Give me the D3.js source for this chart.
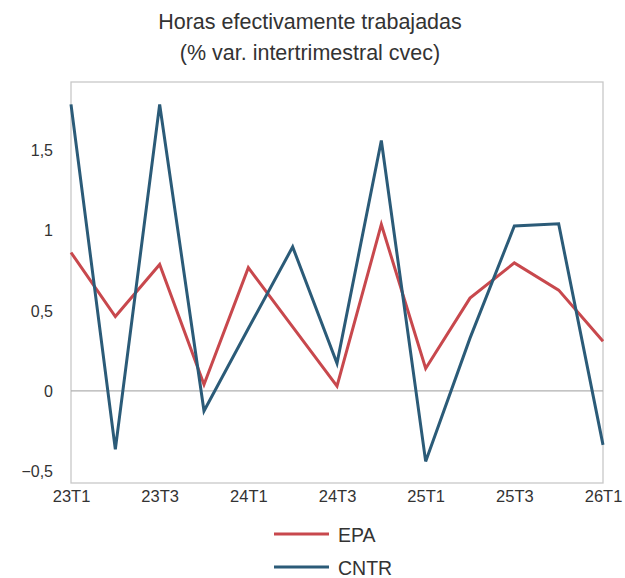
<!DOCTYPE html>
<html>
<head>
<meta charset="utf-8">
<script src="https://cdn.jsdelivr.net/npm/d3@7"></script>
<style>
    body { margin: 0; background: #fff; }
    svg { font-family: "Liberation Sans", Arial, sans-serif; }
</style>
</head>
<body>
<svg id="chart" width="625" height="578"></svg>
<script>
// Data
const quarters = ['23T1', '23T2', '23T3', '23T4', '24T1', '24T2', '24T3', '24T4',
    '25T1', '25T2', '25T3', '25T4', '26T1'];
const tickLabels = ['23T1', '23T3', '24T1', '24T3', '25T1', '25T3', '26T1'];
const epa = [0.865, 0.465, 0.79, 0.04, 0.77, 0.40, 0.03, 1.04, 0.14, 0.58, 0.80, 0.63, 0.31];
const cntr = [1.79, -0.365, 1.79, -0.125, 0.39, 0.90, 0.173, 1.565, -0.44, 0.33, 1.03, 1.044, -0.337];
const yTicks = [-0.5, 0, 0.5, 1, 1.5];

const series = [
    { name: 'EPA', values: epa, color: '#c8484d' },
    { name: 'CNTR', values: cntr, color: '#2b5b78' }
];

const svg = d3.select('#chart');
const margin = { left: 71, right: 22, top: 82, bottom: 95 };
const width = 625, height = 578;

const x = d3.scalePoint()
    .domain(quarters)
    .range([margin.left, width - margin.right]);

const y = d3.scaleLinear()
    .domain([-0.575, 1.93])
    .range([height - margin.bottom, margin.top]);

// Title
svg.append('text')
    .attr('x', 310).attr('y', 29)
    .attr('text-anchor', 'middle')
    .attr('font-size', 21.5).attr('fill', '#333')
    .text('Horas efectivamente trabajadas');
svg.append('text')
    .attr('x', 310).attr('y', 60)
    .attr('text-anchor', 'middle')
    .attr('font-size', 21.5).attr('fill', '#333')
    .text('(% var. intertrimestral cvec)');

// Frame
svg.append('rect')
    .attr('x', margin.left).attr('y', margin.top)
    .attr('width', width - margin.left - margin.right)
    .attr('height', height - margin.top - margin.bottom)
    .attr('fill', 'none')
    .attr('stroke', '#c8c8c8')
    .attr('stroke-width', 1.3);

// Zero line
svg.append('line')
    .attr('x1', margin.left).attr('x2', width - margin.right)
    .attr('y1', y(0)).attr('y2', y(0))
    .attr('stroke', '#b0b0b0')
    .attr('stroke-width', 1.3);

// Y axis
const fmt = d => d3.format('.1~f')(d).replace('.', ',').replace('-', '\u2212');
const yAxis = d3.axisLeft(y).tickValues(yTicks).tickSize(0).tickPadding(18).tickFormat(fmt);
svg.append('g')
    .attr('transform', `translate(${margin.left},0)`)
    .call(yAxis)
    .call(g => g.select('.domain').remove())
    .selectAll('text')
    .attr('font-size', 16)
    .attr('fill', '#333')
    .attr('font-family', '"Liberation Sans", Arial, sans-serif');

// X axis
const xAxis = d3.axisBottom(x).tickValues(tickLabels).tickSize(0).tickPadding(7);
svg.append('g')
    .attr('transform', `translate(0,${height - margin.bottom})`)
    .call(xAxis)
    .call(g => g.select('.domain').remove())
    .selectAll('text')
    .attr('font-size', 16.5)
    .attr('fill', '#333')
    .attr('font-family', '"Liberation Sans", Arial, sans-serif');

// Lines
const line = d3.line()
    .x((d, i) => x(quarters[i]))
    .y(d => y(d));

series.forEach(s => {
    svg.append('path')
        .datum(s.values)
        .attr('d', line)
        .attr('fill', 'none')
        .attr('stroke', s.color)
        .attr('stroke-width', 3)
        .attr('stroke-linejoin', 'miter');
});

// Legend
const legend = svg.append('g');
series.forEach((s, i) => {
    const ly = 534 + i * 33;
    legend.append('line')
        .attr('x1', 274).attr('x2', 329)
        .attr('y1', ly).attr('y2', ly)
        .attr('stroke', s.color)
        .attr('stroke-width', 3);
    legend.append('text')
        .attr('x', 338).attr('y', ly + 8)
        .attr('font-size', 19.5)
        .attr('fill', '#333')
        .text(s.name);
});
</script>
</body>
</html>
